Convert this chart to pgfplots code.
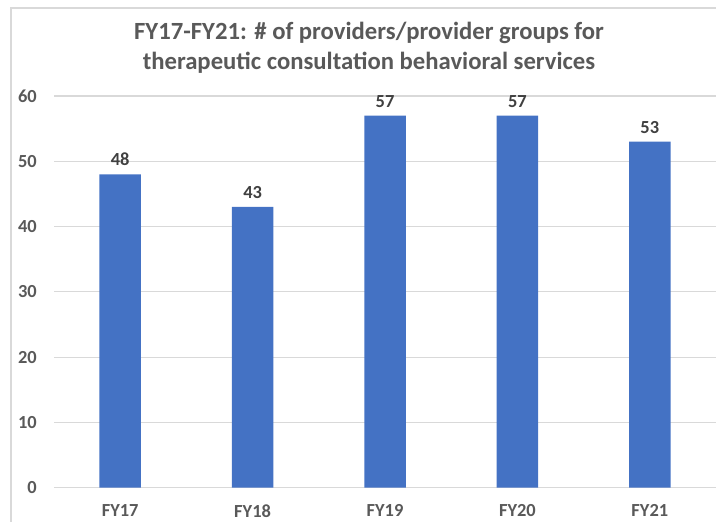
\documentclass[border=0pt]{standalone}
\usepackage{fontspec}
\setmainfont{Carlito}
\usepackage{pgfplots}
\pgfplotsset{compat=1.18}
\definecolor{barblue}{HTML}{4472C4}
\definecolor{gridgray}{HTML}{D9D9D9}
\definecolor{txtgray}{HTML}{595959}
\definecolor{lblgray}{HTML}{404040}
\begin{document}
\begin{tikzpicture}[x=1bp,y=1bp]
\useasboundingbox (0,0) rectangle (716,522);
\draw[gridgray, line width=1.2bp] (11,-5) -- (11,514) -- (730,514);
\node[anchor=base, font=\fontsize{24.8}{28}\selectfont\bfseries, text=txtgray, inner sep=0pt] at (369,482) {FY17-FY21: \# of providers/provider groups for};
\node[anchor=base, font=\fontsize{24.8}{28}\selectfont\bfseries, text=txtgray, inner sep=0pt] at (369,452) {therapeutic consultation behavioral services};
\begin{axis}[
  at={(54bp,34.3bp)}, anchor=south west,
  scale only axis, width=662bp, height=391.7bp,
  xmin=-0.5, xmax=4.5, ymin=0, ymax=60,
  ytick={0,10,...,60},
  xtick={0,1,2,3,4},
  xticklabels={FY17,FY18,FY19,FY20,FY21},
  axis line style={draw=none},
  major tick length=0pt,
  ymajorgrids, grid style={gridgray, line width=1.2bp},
  /pgf/number format/assume math mode=true,
  yticklabel style={font=\fontsize{18.5}{22}\selectfont\bfseries, text=txtgray, anchor=east, inner sep=0pt, xshift=-17bp},
  xticklabel style={font=\fontsize{18.5}{22}\selectfont\bfseries, text=txtgray, anchor=north, inner sep=0pt, yshift=-17bp},
  ybar, bar width=41.5bp,
  nodes near coords,
  nodes near coords style={font=\fontsize{18.5}{22}\selectfont\bfseries, text=lblgray, anchor=south, inner sep=0pt, yshift=8bp},
  clip=false,
]
\addplot[fill=barblue, draw=none] coordinates {(0,48) (1,43) (2,57) (3,57) (4,53)};
\end{axis}
\end{tikzpicture}
\end{document}
